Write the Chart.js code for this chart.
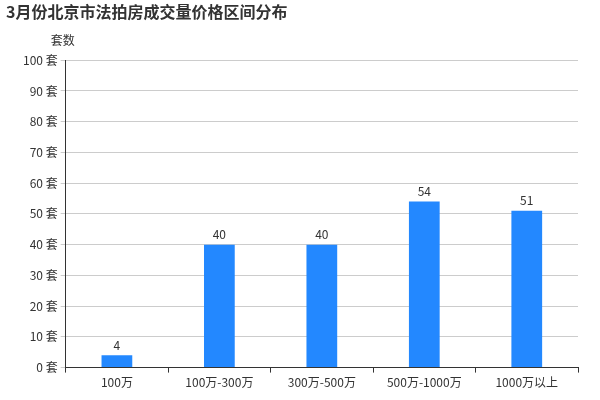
<!DOCTYPE html>
<html><head><meta charset="utf-8">
<script src="https://cdn.jsdelivr.net/npm/chart.js@4/dist/chart.umd.min.js"></script>
<style>body{margin:0;background:#fff}#w{width:600px;height:400px}</style>
</head><body><div id="w"><canvas id="c"></canvas></div>
<script>
const categories = ["100万","100万-300万","300万-500万","500万-1000万","1000万以上"];
const values = [4,40,40,54,51];
const font = "'Noto Sans CJK SC','Noto Sans',sans-serif";
const labels = {
  id:'labels',
  afterDatasetsDraw(ch){
    const c=ch.ctx, m=ch.getDatasetMeta(0);
    c.save(); c.font="12px "+font; c.fillStyle="#333"; c.textAlign="center"; c.textBaseline="bottom";
    m.data.forEach((b,i)=>c.fillText(values[i], b.x, b.y-4));
    c.fillText("套数", ch.chartArea.left-3, ch.chartArea.top-14);
    c.restore();
  }
};
new Chart(document.getElementById('c'),{
  type:'bar',
  data:{labels:categories,datasets:[{data:values,backgroundColor:'#2388ff',barPercentage:0.3,categoryPercentage:1}]},
  options:{responsive:true,maintainAspectRatio:false,animation:false,
    layout:{padding:{left:6,right:22,top:0,bottom:7}},
    plugins:{legend:{display:false},tooltip:{enabled:false},
      title:{display:true,text:"3月份北京市法拍房成交量价格区间分布",align:'start',color:'#333',
        font:{family:font,size:16,weight:'bold'},padding:{top:2,bottom:39}}},
    scales:{
      x:{grid:{display:true,drawOnChartArea:false,offset:true,color:'#333',tickLength:5},
        border:{color:'#333'},ticks:{color:'#333',font:{family:font,size:12}}},
      y:{min:0,max:100,afterFit:s=>{s.width+=14},ticks:{stepSize:10,color:'#333',font:{family:font,size:12},callback:v=>v+" 套"},
        grid:{color:'#ccc',tickLength:5},border:{display:true,color:'#333'}}
    }},
  plugins:[labels]
});
</script></body></html>
